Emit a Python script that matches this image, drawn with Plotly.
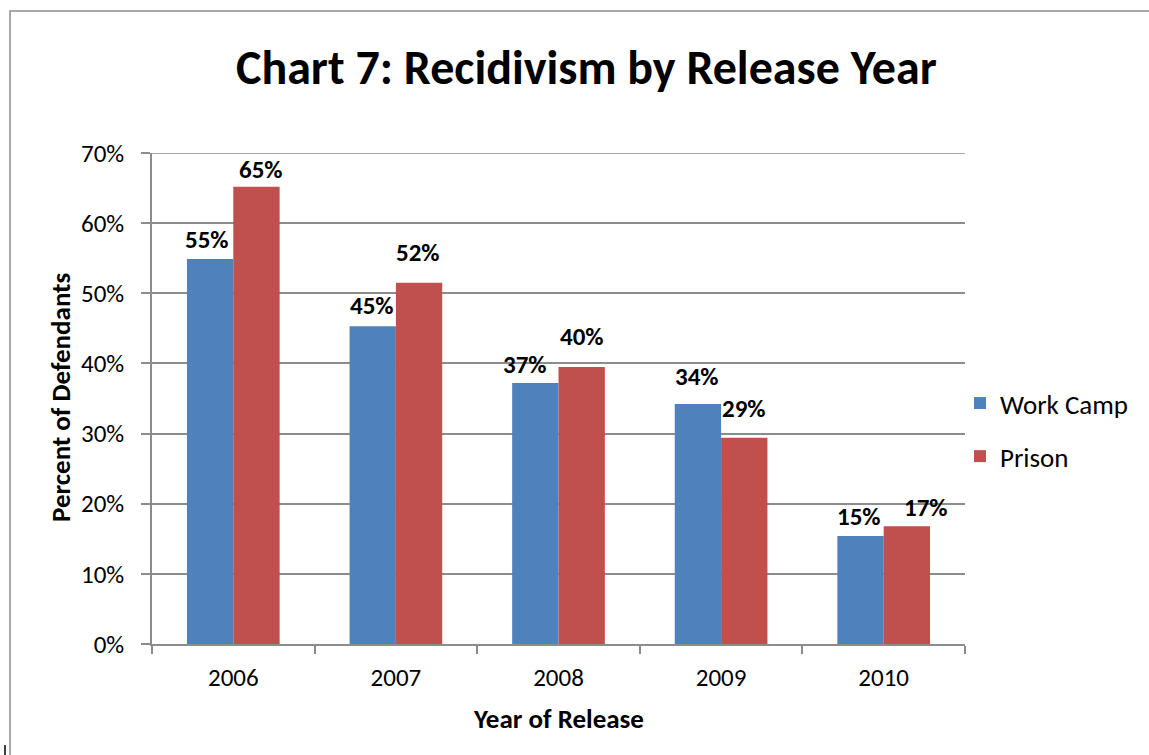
import plotly.graph_objects as go

years = ["2006", "2007", "2008", "2009", "2010"]
work_camp = [54.9, 45.3, 37.2, 34.2, 15.4]
prison = [65.2, 51.5, 39.5, 29.4, 16.8]
y_ticks = [0, 10, 20, 30, 40, 50, 60, 70]
y_tick_labels = ["0%", "10%", "20%", "30%", "40%", "50%", "60%", "70%"]

# label pixel offsets (style)
wc_shift = [(-3, 19), (-1, 21), (-10, 19), (-1, 28), (-1, 19)]
pr_shift = [(4, 17), (-1, 30), (0, 30), (0, 29), (19, 19)]

FONT = "Carlito, Calibri, Lato, sans-serif"
BLUE = "#4F81BD"
RED = "#C0504D"
GRID = "#8C8C8C"
FS = 25
FS2 = 27

fig = go.Figure()
fig.add_trace(go.Bar(x=years, y=work_camp, name="Work Camp", marker=dict(color=BLUE, line=dict(width=0)),
                     legendgroup="a"))
fig.add_trace(go.Bar(x=years, y=prison, name="Prison", marker=dict(color=RED, line=dict(width=0)),
                     legendgroup="b"))

ann = []
off = 0.143
for i, (v, (dx, dy)) in enumerate(zip(work_camp, wc_shift)):
    ann.append(dict(x=i - off, y=v, xref="x", yref="y", text=f"<b>{round(v)}%</b>", showarrow=False,
                    xshift=dx, yshift=dy, yanchor="middle", font=dict(family=FONT, size=25, color="black")))
for i, (v, (dx, dy)) in enumerate(zip(prison, pr_shift)):
    ann.append(dict(x=i + off, y=v, xref="x", yref="y", text=f"<b>{round(v)}%</b>", showarrow=False,
                    xshift=dx, yshift=dy, yanchor="middle", font=dict(family=FONT, size=25, color="black")))

W, H = 1149, 755
L, R, T, B = 152, 965, 153, 644


def px_x(p):
    return (p - L) / (R - L)


def px_y(p):
    return (B - p) / (B - T)


ann.append(dict(x=px_x(586), y=px_y(67), xref="paper", yref="paper", text="<b>Chart 7: Recidivism by Release Year</b>",
                showarrow=False, xanchor="center", yanchor="middle", font=dict(family=FONT, size=48, color="black")))
ann.append(dict(x=px_x(60), y=px_y(398), xref="paper", yref="paper", text="<b>Percent of Defendants</b>",
                showarrow=False, textangle=-90, xanchor="center", yanchor="middle",
                font=dict(family=FONT, size=FS2, color="black")))
ann.append(dict(x=px_x(558), y=px_y(718), xref="paper", yref="paper", text="<b>Year of Release</b>",
                showarrow=False, xanchor="center", yanchor="middle", font=dict(family=FONT, size=FS2, color="black")))

shapes = [
    dict(type="rect", xref="paper", yref="paper", x0=px_x(10), y0=px_y(775), x1=px_x(1170), y1=px_y(11),
         line=dict(color="#8C8C8C", width=1.5), layer="below"),
    dict(type="line", xref="paper", yref="paper", x0=px_x(5), y0=px_y(745), x1=px_x(5), y1=px_y(756),
         line=dict(color="black", width=1.5)),
    dict(type="line", xref="paper", yref="y", x0=0, x1=1, y0=y_ticks[-1], y1=y_ticks[-1],
         line=dict(color=GRID, width=1.5), layer="below"),
]

fig.update_layout(
    width=W, height=H,
    margin=dict(l=L, r=W - R, t=T, b=H - B, autoexpand=False),
    paper_bgcolor="white", plot_bgcolor="white",
    barmode="group", bargap=0.43, bargroupgap=0,
    font=dict(family=FONT, size=FS, color="black"),
    showlegend=True,
    legend=dict(x=px_x(960), y=px_y(379), xanchor="left", yanchor="top", xref="paper", yref="paper",
                traceorder="grouped", tracegroupgap=15, font=dict(family=FONT, size=FS2, color="black"),
                itemwidth=30, bgcolor="rgba(0,0,0,0)"),
    annotations=ann,
    shapes=shapes,
    xaxis=dict(type="category", showline=True, linecolor=GRID, linewidth=1.5, ticks="outside", ticklen=8,
               tickcolor=GRID, tickwidth=1.5, tickson="boundaries", showgrid=False,
               tickfont=dict(family=FONT, size=FS, color="black"), range=[-0.5, 4.5], ticklabelstandoff=10),
    yaxis=dict(range=[0, 70], tickvals=y_ticks, ticktext=y_tick_labels, showline=True, linecolor=GRID,
               linewidth=1.5, ticks="outside", ticklen=9, tickcolor=GRID, tickwidth=1.5, showgrid=True,
               gridcolor=GRID, gridwidth=1.5, zeroline=False, tickfont=dict(family=FONT, size=FS, color="black"),
               ticklabelstandoff=12, fixedrange=True),
)

fig.write_html("out.html")
